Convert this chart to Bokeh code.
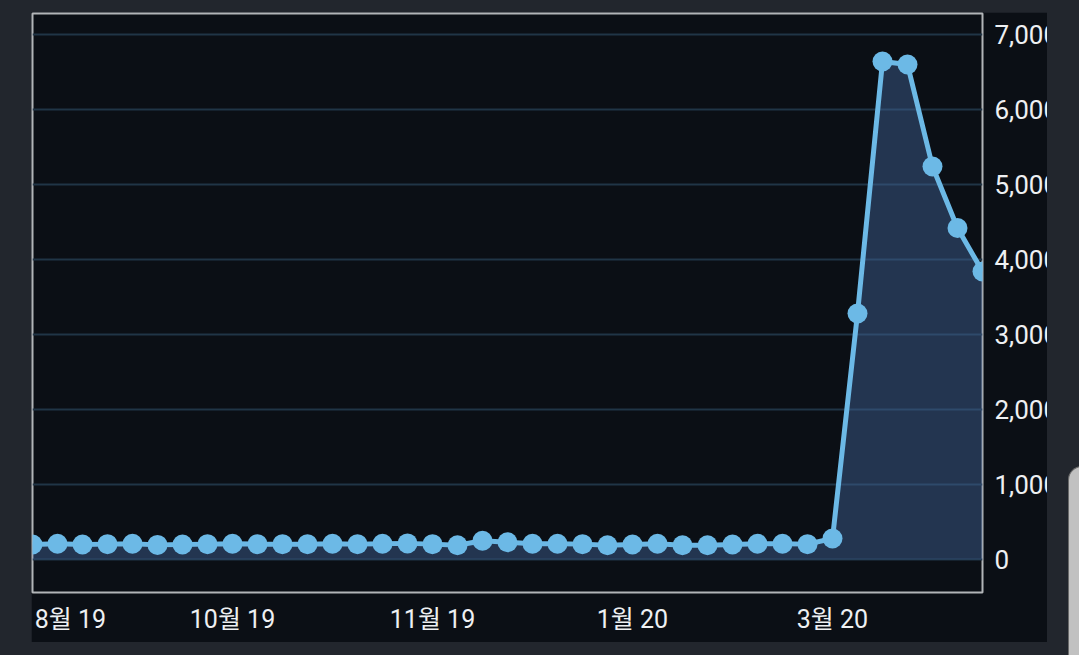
from bokeh.plotting import figure
from bokeh.models import Range1d, FixedTicker, NumeralTickFormatter, ColumnDataSource
from bokeh.embed import file_html
from bokeh.resources import INLINE

# ---- data (weekly index values) ----
week_index = list(range(39))
interest = [200, 210, 200, 205, 210, 195, 200, 205, 210, 205,
            205, 205, 210, 205, 210, 215, 205, 190, 250, 230,
            210, 210, 205, 190, 200, 210, 190, 190, 200, 210,
            210, 205, 280, 3280, 6640, 6600, 5240, 4420, 3840]
x_tick_pos = [1.52, 8, 16, 24, 32]
x_tick_labels = ["8월 19", "10월 19", "11월 19", "1월 20", "3월 20"]
y_ticks = [0, 1000, 2000, 3000, 4000, 5000, 6000, 7000]

src = ColumnDataSource(dict(x=week_index, y=interest))

FONT = "Roboto, 'Noto Sans CJK KR', sans-serif"
PANEL = "#0b0f15"
OUTER = "#22262d"

p = figure(frame_width=950, frame_height=579,
           x_range=Range1d(0, 38), y_range=Range1d(-440, 7280),
           y_axis_location="right",
           output_backend="svg", toolbar_location=None,
           min_border_left=1, min_border_top=1, min_border_bottom=50,
           min_border_right=0)
p.margin = (12, 0, 0, 31)
p.styles = {"overflow": "hidden", "max-width": "1016px"}

p.background_fill_color = PANEL
p.border_fill_color = PANEL
p.outline_line_color = "#b2b5b8"
p.outline_line_width = 2

p.xgrid.visible = False
p.ygrid.ticker = FixedTicker(ticks=y_ticks)
p.ygrid.grid_line_color = "#203546"
p.ygrid.grid_line_width = 2

p.varea(x="x", y1=0, y2="y", source=src, fill_color="#406398", fill_alpha=0.45)
p.line(x="x", y="y", source=src, line_color="#6cb9e6", line_width=5)
p.scatter(x="x", y="y", source=src, size=20, fill_color="#6cb9e6", line_color=None)

# y axis (right)
ya = p.yaxis[0]
ya.ticker = FixedTicker(ticks=y_ticks)
ya.formatter = NumeralTickFormatter(format="0,0")
ya.axis_line_color = None
ya.major_tick_line_color = None
ya.minor_tick_line_color = None
ya.major_label_text_font = FONT
ya.major_label_text_font_size = "26px"
ya.major_label_text_color = "#eef0f2"
ya.major_label_standoff = 6

# x axis
xa = p.xaxis[0]
xa.ticker = FixedTicker(ticks=x_tick_pos)
xa.major_label_overrides = {pos: lab for pos, lab in zip(x_tick_pos, x_tick_labels)}
xa.axis_line_color = None
xa.major_tick_line_color = None
xa.minor_tick_line_color = None
xa.major_label_text_font = FONT
xa.major_label_text_font_size = "25px"
xa.major_label_text_color = "#eef0f2"
xa.major_label_standoff = 6

html = file_html(p, INLINE)
css = ("<style>html,body{background-color:%s !important;margin:0 !important;"
       "padding:0 !important;overflow:hidden;}</style>" % OUTER)
html = html.replace("</head>", css + "</head>", 1)
side = ('<div style="position:fixed;left:1068px;top:466px;width:40px;height:300px;'
        'background:#c1c1c1;border-left:1px solid #6a6a6a;border-top:1px solid #6a6a6a;'
        'border-radius:14px 0 0 0;"></div>')
idx = html.rfind("</body>")
if idx != -1:
    html = html[:idx] + side + html[idx:]
open("out.html", "w").write(html)
